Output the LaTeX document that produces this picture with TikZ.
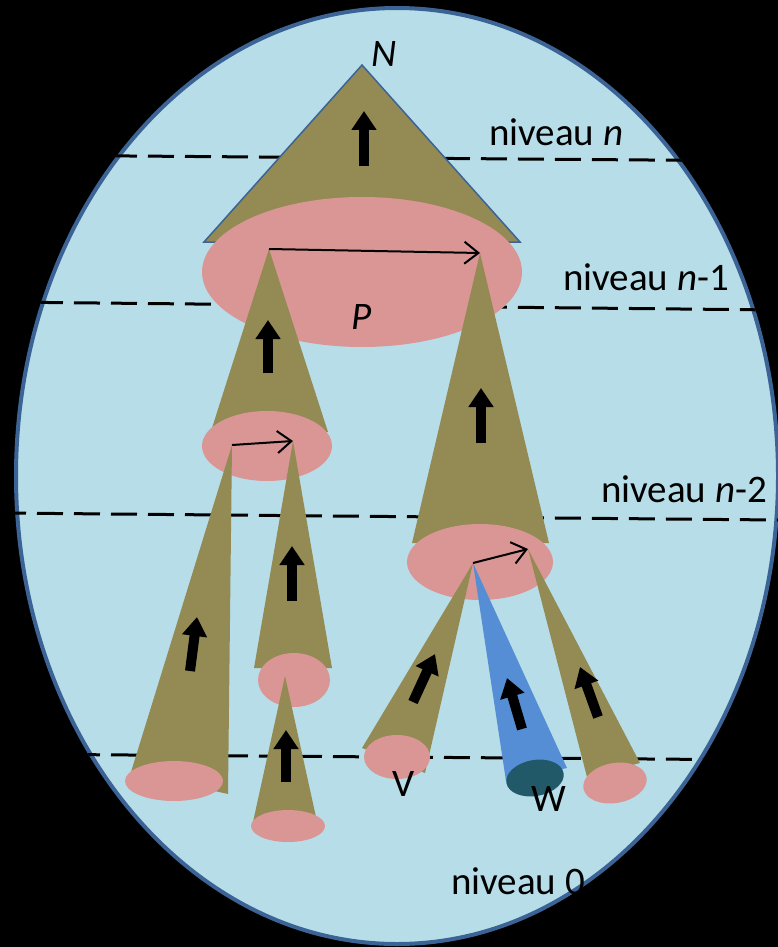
\documentclass[tikz,border=0pt]{standalone}
\usepackage{fontspec}
\setmainfont{Carlito}
\usepackage{xcolor}
\usepackage{tikz}
\usetikzlibrary{arrows.meta}

\definecolor{fond}{HTML}{B7DEE8}
\definecolor{bord}{HTML}{3C6395}
\definecolor{olive}{HTML}{948A54}
\definecolor{rose}{HTML}{D99694}
\definecolor{bleu}{HTML}{558ED5}
\definecolor{sarcelle}{HTML}{215968}

\tikzset{
        niveau/.style={black, line width=3pt, dash pattern=on 26pt off 11pt},
        fleche/.style={black, line width=10pt, -{Triangle[length=19pt,width=24pt]}},
        lien/.style={black, line width=2pt, -{Straight Barb[length=14pt,width=22pt]}},
        texte/.style={inner sep=0pt, anchor=base west, font=\fontsize{39}{42}\selectfont},
}

\begin{document}
\begin{tikzpicture}[x=1pt, y=-1pt]
        \useasboundingbox (0, 0) rectangle (778, 947);
        \fill[black] (0, 0) rectangle (778, 947);
        \filldraw[fill = fond, draw = bord, line width=4pt] (397, 476) ellipse (381pt and 468pt);

        \begin{scope}
            \clip (397, 476) ellipse (383pt and 470pt);
            \draw[niveau] (0, 155) -- (778, 161);
            \draw[niveau] (0, 302) -- (778, 310);
            \draw[niveau] (0, 513) -- (778, 520);
            \draw[niveau] (0, 754) -- (778, 760);
        \end{scope}

        \coordinate (N) at (362, 65);
        \coordinate (A) at (269, 249);
        \coordinate (B) at (480, 253);
        \coordinate (C) at (232, 445);
        \coordinate (D) at (293, 441);
        \coordinate (G) at (285, 676);
        \coordinate (E) at (473, 563);
        \coordinate (F) at (528, 549);

        \filldraw[fill = olive, draw = bord, line width=1.5pt] (N) -- (204, 242) -- (520, 242) -- cycle;
        \draw[fleche] (364, 166) -- (364, 111);
        \fill[rose] (362, 272) ellipse (160pt and 75pt);

        \fill[olive] (A) -- (212, 428) -- (328, 432) -- cycle;
        \draw[fleche] (268, 373) -- (268, 320);
        \fill[olive] (B) -- (412, 543) -- (549, 543) -- cycle;
        \draw[fleche] (481, 443) -- (481, 388);
        \draw[lien] (A) -- (B);

        \fill[rose] (267, 446) ellipse (65pt and 35pt);
        \fill[olive] (C) -- (131, 772) -- (228, 794) -- cycle;
        \draw[fleche] (190, 671) -- (197, 617);
        \fill[rose] (174, 781) ellipse (49pt and 20pt);
        \fill[olive] (D) -- (254, 668) -- (332, 668) -- cycle;
        \draw[fleche] (292, 601) -- (292, 546);
        \fill[rose] (294, 680) ellipse (36pt and 27pt);
        \fill[olive] (G) -- (253, 822) -- (316, 817) -- cycle;
        \draw[fleche] (286, 782) -- (286, 730);
        \fill[rose] (288, 826) ellipse (37pt and 16pt);
        \draw[lien] (C) -- (D);

        \fill[rose] (480, 562) ellipse (73pt and 38pt);
        \fill[olive] (E) -- (362, 748) -- (425, 773) -- cycle;
        \draw[fleche] (413, 702) -- (435, 654);
        \fill[rose] (397, 757) ellipse (33pt and 22pt);
        \fill[bleu] (E) -- (506, 781) -- (567, 768) -- cycle;
        \draw[fleche] (522, 729) -- (507, 678);
        \fill[sarcelle, rotate around={10:(535, 778)}] (535, 778) ellipse (29pt and 18pt);
        \fill[olive] (F) -- (587, 777) -- (640, 763) -- cycle;
        \draw[fleche] (598, 717) -- (580, 667);
        \fill[rose, rotate around={10:(615, 783)}] (615, 783) ellipse (32pt and 20pt);
        \draw[lien] (E) -- (F);

        \node[texte] (labelN) at (371, 67) {\textit{N}};
        \node[texte] (labelP) at (351, 329) {\textit{P}};
        \node[texte] (labelV) at (392, 796) {V};
        \node[texte] (labelW) at (531, 811) {W};
        \node[texte] (niv) at (489, 145) {niveau \textit{n}};
        \node[texte] (nivA) at (563, 290) {niveau \textit{n}-1};
        \node[texte] (nivB) at (601, 502) {niveau \textit{n}-2};
        \node[texte] (nivZ) at (451, 894) {niveau 0};
    \end{tikzpicture}
\end{document}
